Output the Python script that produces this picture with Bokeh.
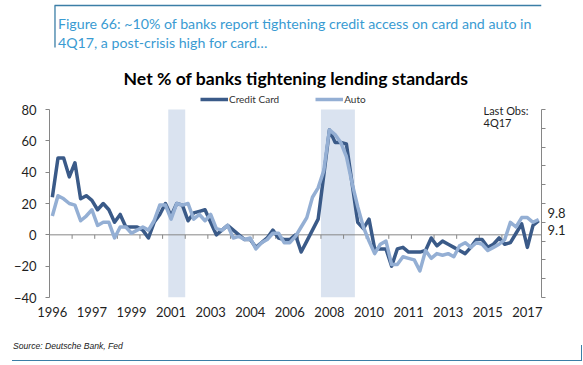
import numpy as np
from bokeh.plotting import figure
from bokeh.models import (Range1d, LinearAxis, FixedTicker, Span, Label, Legend,
                          LegendItem, BoxAnnotation, Div, CustomJSTickFormatter)
from bokeh.layouts import column
from bokeh.embed import file_html
from bokeh.resources import INLINE

# ---------------- data (quarterly, 1996 .. 4Q17) ----------------
credit_card = [24, 49, 49, 37, 46, 23, 25, 22, 16, 20,
               16, 8, 13, 5, 5, 5, 3, -2, 8, 13,
               20, 12, 20, 19, 9, 14, 15, 16, 8, 0,
               3, 6, 3, 0, -3, -3, -8, -5, -2, 3,
               -2, -3, -3, 0, -11, -4, 3, 10, 38, 67,
               59, 59, 58, 33, 8, 4, 10, -9, -9, -9,
               -20, -9, -8, -11, -11, -11, -10, -2, -7, -4,
               -6, -8, -10, -12, -8, -3, -3, -8, -6, -2,
               -6, -5, 1, 7, -8, 6, 9.1]
auto = [12, 25, 23, 20, 19, 9, 12, 16, 6, 8,
        8, -2, 5, 5, 1, 3, 5, 3, 9, 19,
        19, 10, 20, 19, 20, 10, 13, 9, 13, 4,
        3, 6, -2, -1, -3, -2, -9, -5, -3, 1,
        1, -5, -5, -1, 5, 11, 24, 30, 41, 67,
        64, 59, 50, 33, 18, 5, -4, -12, -6, -4,
        -19, -19, -14, -15, -16, -23, -10, -15, -12, -13,
        -12, -14, -7, -5, -8, -5, -6, -10, -8, -6,
        -3, 8, 5, 11, 11, 8, 9.8]
year_labels = ["1996", "1997", "1999", "2001", "2003", "2004", "2006",
               "2008", "2010", "2011", "2013", "2015", "2017"]
label_every = 7              # one label every 7 quarters
recession_start = [21, 48]   # quarter index
recession_end = [23, 53]
y_ticks = [-40, -20, 0, 20, 40, 60, 80]
y_min, y_max = -40, 80
last_obs = "4Q17"

n = len(credit_card)
xq = list(range(n))

DARK = "#3A5A88"
LIGHT = "#94AFD4"
SHADE = "#DAE3F0"
AXIS = "#868686"
RULE = "#3b7ea6"
HEAD = "#3a9bd2"
TXT = "#1f1f1f"
FONT = "Lato"

W = 583
TOP_H, MAIN_H, BOT_H = 92, 238, 35

# ---------------- top block: heading + chart title ----------------
top = figure(width=W, height=TOP_H, x_range=Range1d(0, W), y_range=Range1d(TOP_H, 0),
             output_backend="svg", toolbar_location=None, min_border=0,
             x_axis_location=None, y_axis_location=None)
top.outline_line_color = None
top.grid.visible = False
top.segment(x0=[6], y0=[5], x1=[W], y1=[5], line_color=RULE, line_width=1.3)
top.segment(x0=[6.5], y0=[5], x1=[6.5], y1=[47], line_color=RULE, line_width=1.3)
top.add_layout(Label(x=10, y=22.5, text="Figure 66: ~10% of banks report tightening credit access on card and auto in",
                     text_font=FONT, text_font_size="14.2px", text_color=HEAD,
                     text_baseline="alphabetic"))
top.add_layout(Label(x=10, y=41.5, text="4Q17, a post-crisis high for card…",
                     text_font=FONT, text_font_size="14.2px", text_color=HEAD,
                     text_baseline="alphabetic"))
top.add_layout(Label(x=292, y=77.5, text="Net % of banks tightening lending standards",
                     text_font=FONT, text_font_size="17.6px", text_font_style="bold",
                     text_color="#000000", text_align="center", text_baseline="alphabetic"))

# ---------------- main chart ----------------
BL, BR, BT, BB = 49, 42, 0, 33
fw = W - BL - BR
fh = MAIN_H - BT - BB
px_per_unit = 188 / (y_max - y_min)          # height of the -40..80 band
y_top = y_min + fh / px_per_unit              # room above 80 for legend / notes
x0, x1 = -0.5, n - 0.5

p = figure(width=W, height=MAIN_H, x_range=Range1d(x0, x1), y_range=Range1d(y_min, y_top),
           output_backend="svg", toolbar_location=None,
           min_border_left=BL, min_border_right=BR, min_border_top=BT, min_border_bottom=BB,
           x_axis_location=None, y_axis_location=None)
p.outline_line_color = None
p.grid.visible = False
p.background_fill_color = None
p.border_fill_color = None

def dx(local_px):
    return x0 + (local_px - BL) * (x1 - x0) / fw
def dy(local_py):
    return y_top - (local_py - BT) / px_per_unit

for s, e in zip(recession_start, recession_end):
    p.add_layout(BoxAnnotation(left=s - 0.5, right=e + 0.5, top=y_max, bottom=y_min,
                               fill_color=SHADE, fill_alpha=1, line_color=None, level="underlay"))
p.add_layout(Span(location=0, dimension="width", line_color=AXIS, line_width=1, level="underlay"))

# yearly tick marks on the zero line
tick_x = np.arange(3.5, n - 0.5, 4)
p.segment(x0=tick_x, y0=0, x1=tick_x, y1=-4 / px_per_unit, line_color=AXIS, line_width=1)

r_cc = p.line(xq, credit_card, line_color=DARK, line_width=3.5, line_join="round")
r_au = p.line(xq, auto, line_color=LIGHT, line_width=3.5, line_join="round")

ly = LinearAxis(ticker=FixedTicker(ticks=y_ticks), bounds=(y_min, y_max), axis_line_color=AXIS,
                major_tick_line_color=AXIS, major_tick_out=4, major_tick_in=0,
                minor_tick_line_color=None, major_label_text_font=FONT,
                major_label_text_font_size="13px", major_label_text_color=TXT,
                major_label_standoff=9)
p.add_layout(ly, "left")

# secondary (unlabelled) axis on the right: 10 equal steps
p.extra_y_ranges = {"right": Range1d(0, 10 * (y_top - y_min) / (y_max - y_min))}
ry = LinearAxis(y_range_name="right", ticker=FixedTicker(ticks=list(range(0, 11))),
                bounds=(0, 10), axis_line_color=AXIS, major_tick_line_color=AXIS,
                major_tick_out=4, major_tick_in=0, minor_tick_line_color=None,
                major_label_standoff=0, formatter=CustomJSTickFormatter(code="return ''"))
p.add_layout(ry, "right")

# last-value labels next to the right axis
note_pos = [auto[-1] + 3.9, credit_card[-1] - 5.7]
note_txt = [f"{auto[-1]:.1f}", f"{credit_card[-1]:.1f}"]
ra = LinearAxis(ticker=FixedTicker(ticks=note_pos),
                major_label_overrides={v: t for v, t in zip(note_pos, note_txt)},
                axis_line_color=None, major_tick_line_color=None, minor_tick_line_color=None,
                major_tick_out=0, major_tick_in=0, major_label_standoff=2,
                major_label_text_font=FONT, major_label_text_font_size="13px",
                major_label_text_color=TXT)
p.add_layout(ra, "right")

label_pos = list(range(0, n, label_every))
bx = LinearAxis(ticker=FixedTicker(ticks=label_pos),
                major_label_overrides={pos: lab for pos, lab in zip(label_pos, year_labels)},
                axis_line_color=None, major_tick_line_color=None, minor_tick_line_color=None,
                major_tick_out=0, major_tick_in=0,
                major_label_text_font=FONT, major_label_text_font_size="13px",
                major_label_text_color=TXT, major_label_standoff=9)
p.add_layout(bx, "below")

legend = Legend(items=[LegendItem(label="Credit Card", renderers=[r_cc]),
                       LegendItem(label="Auto", renderers=[r_au])],
                location=(151, 192), orientation="horizontal",
                glyph_width=28, glyph_height=12, label_height=12, label_standoff=1,
                spacing=36, padding=0, margin=0,
                background_fill_alpha=0, border_line_color=None,
                label_text_font=FONT, label_text_font_size="10px", label_text_color="#333333")
p.add_layout(legend)

p.add_layout(Label(x=dx(483), y=dy(17.5), text="Last Obs:", text_font=FONT,
                   text_font_size="11px", text_color=TXT, text_baseline="alphabetic"))
p.add_layout(Label(x=dx(483), y=dy(30), text=last_obs, text_font=FONT,
                   text_font_size="11px", text_color=TXT, text_baseline="alphabetic"))

# ---------------- bottom block: source ----------------
src_html = (
    '<div style="position:relative;margin-left:7px;width:570px;height:26px;'
    'border-bottom:1.2px solid %s;">'
    '<div style="position:absolute;right:0;top:10px;bottom:0;border-right:1.2px solid %s;"></div>'
    '<span style="position:absolute;left:1px;top:6px;font-family:\'Liberation Sans\';'
    'font-style:italic;font-size:8.6px;line-height:10px;color:#222222;white-space:nowrap;">'
    'Source: Deutsche Bank, Fed</span></div>' % (RULE, RULE)
)
bot = Div(text=src_html, width=W, height=BOT_H)

layout = column(top, p, bot, spacing=0)
open("out.html", "w").write(file_html(layout, INLINE))
